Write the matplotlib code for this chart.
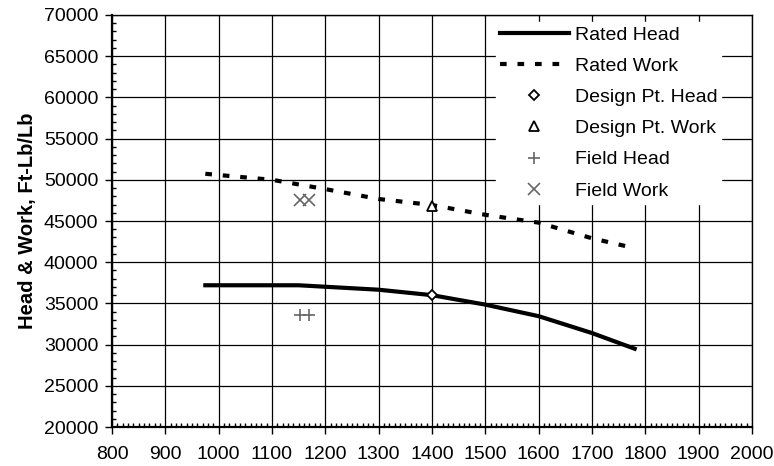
import matplotlib
matplotlib.use("Agg")
import matplotlib.pyplot as plt
from matplotlib.ticker import MultipleLocator

plt.rcParams['font.family'] = ['Liberation Sans', 'DejaVu Sans']
plt.rcParams['font.size'] = 14

# rated curves
speed = [975, 1150, 1300, 1400, 1500, 1600, 1700, 1780]
rated_head = [37200, 37200, 36660, 36000, 34850, 33450, 31400, 29500]
work_speed = [975, 1100, 1200, 1300, 1400, 1500, 1600, 1700, 1780]
rated_work = [50730, 50000, 48870, 47670, 46940, 45750, 44800, 42900, 41700]

# design point
design_speed = [1400]
design_head = [36000]
design_work = [46800]

# field data
field_speed = [1152, 1170]
field_head = [33630, 33630]
field_work = [47550, 47550]

fig = plt.figure(figsize=(7.74, 4.66), dpi=100)
ax = fig.add_axes([112 / 774, 1 - 427 / 466, 640 / 774, 412 / 466])

ax.plot(speed, rated_head, '-', color='black', lw=3, label='Rated Head', zorder=3)
ax.plot(work_speed, rated_work, color='black', lw=3, dashes=(1.6, 2.6),
        label='Rated Work', zorder=3)
ax.plot(design_speed, design_head, 'D', ms=5, mfc='white', mec='black', mew=1.3,
        ls='none', label='Design Pt. Head', zorder=4)
ax.plot(design_speed, design_work, '^', ms=7, mfc='white', mec='black', mew=1.3,
        ls='none', label='Design Pt. Work', zorder=4)
ax.plot(field_speed, field_head, '+', ms=9, color='#666666', mew=1.2,
        ls='none', label='Field Head', zorder=4)
ax.plot(field_speed, field_work, 'x', ms=8, color='#666666', mew=1.2,
        ls='none', label='Field Work', zorder=4)

ax.set_xlim(800, 2000)
ax.set_ylim(20000, 70000)
ax.xaxis.set_major_locator(MultipleLocator(100))
ax.xaxis.set_minor_locator(MultipleLocator(10))
ax.yaxis.set_major_locator(MultipleLocator(5000))
ax.yaxis.set_minor_locator(MultipleLocator(1000))
ax.tick_params(which='major', direction='out', length=5, width=1, labelsize=14)
ax.tick_params(which='minor', direction='in', length=3, width=1)
ax.tick_params(axis='x', which='major', pad=9)
ax.tick_params(axis='y', which='major', pad=5)
ax.grid(True, which='major', color='black', lw=0.9)
ax.set_axisbelow(True)
for s in ax.spines.values():
    s.set_linewidth(1.0)
ax.spines['bottom'].set_linewidth(1.6)
ax.spines['left'].set_linewidth(1.6)

ax.set_ylabel('Head & Work, Ft-Lb/Lb', fontweight='bold', fontsize=14.5, labelpad=5)

leg = ax.legend(loc='upper left', bbox_to_anchor=(0.6, 0.983), fontsize=14,
                handlelength=3.55, handletextpad=0.3, labelspacing=0.7,
                borderpad=0.2, borderaxespad=0, fancybox=False,
                framealpha=1, edgecolor='white', facecolor='white')
leg.set_zorder(5)

fig.savefig('out.png', dpi=100)
